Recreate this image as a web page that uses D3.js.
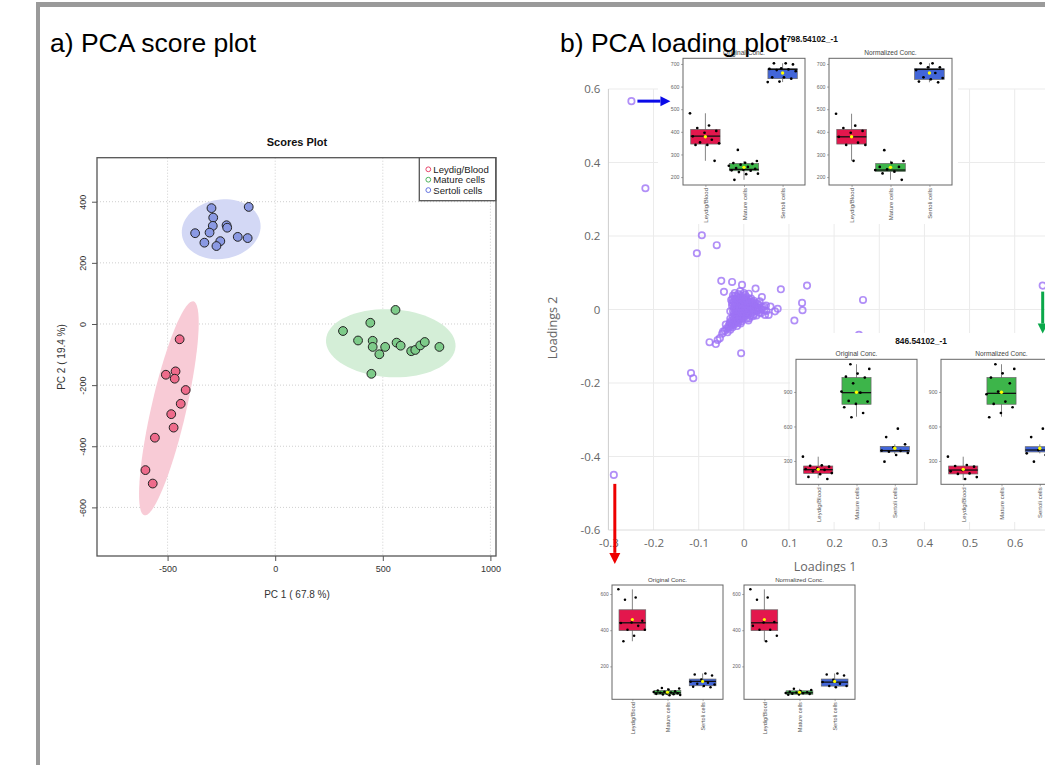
<!DOCTYPE html>
<html>
<head>
<meta charset="utf-8">
<script src="https://cdn.jsdelivr.net/npm/d3@7"></script>
<style>
body { margin: 0; background: #fff; }
svg { display: block; }
</style>
</head>
<body>
<svg id="fig" width="1045" height="765"></svg>
<script>
// ---------- data ----------
const groups = ["Leydig/Blood", "Mature cells", "Sertoli cells"];

// a) PCA scores  [PC1, PC2]
const scoreLeydig = [[-444,-50],[-508,-166],[-463,-155],[-467,-179],[-416,-216],[-439,-261],
  [-483,-295],[-472,-339],[-559,-372],[-603,-478],[-569,-522]];
const scoreMature = [[559,46],[442,4],[315,-23],[385,-54],[453,-55],[453,-75],[511,-75],[484,-99],
  [564,-61],[583,-71],[632,-89],[651,-85],[674,-70],[695,-59],[763,-75],[447,-163]];
const scoreSertoli = [[-296,379],[-123,383],[-288,348],[-290,321],[-226,323],[-223,315],[-372,297],
  [-305,299],[-174,285],[-128,281],[-329,266],[-255,271],[-273,255]];
// confidence ellipses: centre, half major axis, half minor axis (data units)
const ellLeydig = [-494, -276, 114, 350, 79, -13];
const ellMature = [537, -63, 301, -11, -8, -111];
const ellSertoli = [-251, 310, 182, 20, 20, -96];
const scoreXTicks = [-500, 0, 500, 1000];
const scoreYTicks = [-600, -400, -200, 0, 200, 400];

// b) PCA loadings [loading 1, loading 2]
const loadings = [
  [-0.249,0.567],[-0.218,0.330],[-0.288,-0.450],
  [-0.093,0.202],[-0.060,0.175],[-0.104,0.153],
  [-0.050,0.078],[-0.026,0.075],[-0.004,0.067],[-0.044,0.048],[0.026,0.057],[0.082,0.055],
  [0.140,0.065],[0.264,0.026],[0.129,0.018],[0.130,-0.002],[0.112,-0.030],[0.662,0.065],
  [0.255,-0.069],[-0.076,-0.089],[-0.062,-0.094],[-0.058,-0.083],[-0.053,-0.078],[-0.006,-0.119],
  [-0.117,-0.173],[-0.112,-0.187],
  [0.075,0.002],[0.069,-0.005],[0.055,-0.015],[0.047,-0.015],[0.059,0.008],[0.049,0.011],
  [0.035,0.022],[0.040,0.034],[0.003,0.040],[0.011,0.043],[0.032,0.000],[0.021,-0.018],
  [-0.046,-0.060],[-0.040,-0.041],[-0.031,-0.036],
  [-0.02,0.03],[-0.015,0.035],[-0.01,0.03],[-0.005,0.032],[0,0.028],[0.005,0.025],[0.01,0.022],
  [0.015,0.02],[0.02,0.015],[0.025,0.01],[0.03,0.006],[0.035,0.003],[0.04,0.0],[0.028,-0.004],
  [0.018,-0.008],[0.01,-0.012],[-0.022,0.02],[-0.018,0.015],[-0.012,0.018],[-0.006,0.02],
  [0.002,0.016],[0.008,0.012],[0.014,0.008],[0.02,0.004],[0.012,0.0],[0.004,0.004],[-0.004,0.008],
  [-0.01,0.006],[-0.016,0.004],[-0.022,0.006],[-0.024,-0.005],[-0.018,-0.006],[-0.012,-0.004],
  [-0.006,-0.002],[0,-0.004],[0.006,-0.006],[-0.002,-0.012],[-0.008,-0.014],[-0.014,-0.012],
  [-0.02,-0.015],[-0.024,-0.02],[-0.018,-0.022],[-0.012,-0.02],[-0.006,-0.018],[0.002,-0.02],
  [-0.004,-0.026],[-0.01,-0.028],[-0.016,-0.03],[-0.022,-0.032],[-0.026,-0.036],[-0.02,-0.04],
  [-0.012,-0.036],[-0.005,-0.032],[-0.028,-0.044],[-0.033,-0.05],[-0.038,-0.052],[-0.03,-0.055],
  [-0.042,-0.058],[-0.036,-0.062],[-0.048,-0.066],[-0.025,-0.048],[-0.015,-0.045],
  [-0.026,0.01],[-0.028,0.026],[-0.024,0.038],[-0.02,0.045],[-0.012,0.042],[0.006,0.034],
  [0.016,0.03],[0.022,0.024],[0.03,0.016],[0.045,0.008],[0.05,-0.004],[0.038,-0.01],
  [0.028,-0.016],[0.012,-0.024],[-0.03,-0.005],[-0.03,-0.025],[0.0,0.045],[-0.008,0.05],[0.01,-0.03],
  [-0.018,0.025],[-0.013,0.024],[-0.008,0.025],[-0.002,0.024],[0.004,0.02],[0.01,0.016],
  [0.016,0.013],[0.022,0.009],[0.027,0.004],[0.033,-0.002],[0.022,-0.006],[0.015,-0.003],
  [0.008,0.006],[0.002,0.01],[-0.004,0.014],[-0.01,0.012],[-0.016,0.01],[-0.021,0.013],
  [-0.021,0.0],[-0.015,-0.001],[-0.009,0.001],[-0.003,0.002],[0.003,-0.001],[0.008,-0.002],
  [0.004,-0.01],[-0.001,-0.007],[-0.006,-0.008],[-0.011,-0.009],[-0.017,-0.01],[-0.022,-0.011],
  [-0.022,-0.026],[-0.016,-0.025],[-0.009,-0.023],[-0.002,-0.016],[0.006,-0.014],[-0.019,-0.035],
  [-0.013,-0.031],[-0.007,-0.038],[-0.024,-0.041],[-0.028,-0.031],[-0.031,-0.04],[-0.034,-0.045],
  [-0.026,0.018],[-0.025,0.029],[-0.019,0.037],[-0.014,0.029],[-0.006,0.038],[0.004,0.03],
  [0.012,0.028],[0.019,0.021],[0.026,0.017],[0.034,0.012],[0.041,0.006],[0.045,-0.002],
  [0.034,-0.008],[0.022,-0.013],[0.015,-0.018],[0.006,-0.025]
];
const loadXTicks = [-0.3, -0.2, -0.1, 0, 0.1, 0.2, 0.3, 0.4, 0.5, 0.6];
const loadGridX = [-0.2, -0.1, 0, 0.1, 0.2, 0.3, 0.4, 0.5, 0.6, 0.7];
const loadYTicks = [-0.6, -0.4, -0.2, 0, 0.2, 0.4, 0.6];
// highlighted features (index into loadings)
const hiTop = 0, hiLow = 2, hiRight = 17;

// boxplot stats per group: [lowWhisker, q1, median, q3, highWhisker, mean]
const f798OrigStats = [[272,346,381,411,482,378],[188,228,234,260,271,243],[620,635,676,679,703,660]];
const f798OrigPts = [[482,428,417,404,396,380,365,353,349,342,342,272],
  [320,271,263,262,258,255,250,245,240,236,232,230,228,222,215,213,188],
  [703,703,698,681,678,676,673,668,641,641,635,622,620]];
const f798NormStats = [[272,346,378,411,480,378],[188,225,231,260,272,243],[619,632,676,679,703,660]];
const f798NormPts = [[480,427,417,404,396,378,352,342,342,272],
  [319,271,263,245,245,234,231,224,216,188],
  [703,703,685,685,673,660,641,638,632,622,619]];
const f798Ticks = [200, 300, 400, 500, 600, 700];

const f846OrigStats = [[150,192,224,256,337,227],[685,793,894,1025,1141,897],[361,378,390,427,445,410]];
const f846OrigPts = [[337,262,258,250,236,230,222,210,195,185,161,143],
  [1141,1100,1060,1033,1025,975,903,894,822,816,796,767,717,680],
  [581,508,445,419,390,388,380,370,352,294]];
const f846NormStats = [[134,187,221,256,337,227],[685,793,888,1025,1141,897],[366,378,395,424,445,410]];
const f846NormPts = [[337,265,256,250,221,210,192,187,160,143],
  [1141,1100,1062,1025,975,903,880,816,796,767,717,680],
  [581,508,410,395,366,352,294]];
const f846Ticks = [300, 600, 900];

const fLowOrigStats = [[339,398,441,513,626,459],[39,46,54,67,80,57],[83,93,117,130,161,117]];
const fLowOrigPts = [[626,581,569,452,443,440,424,402,402,370,339],
  [80,78,72,66,62,60,58,56,54,52,50,48,46,44,42,40],
  [161,155,150,128,115,109,104,100,92,88,85]];
const fLowNormStats = [[339,398,441,513,626,459],[40,46,54,65,76,57],[83,91,113,130,161,117]];
const fLowNormPts = [[626,581,569,446,443,424,402,402,370,339],
  [76,70,64,60,57,55,53,51,49,47,45,43],
  [161,155,150,126,113,104,91,91,85]];
const fLowTicks = [200, 400, 600];

const boxColors = ["#e3174d", "#3db54a", "#4266d9"];

// ---------- drawing ----------
const svg = d3.select("#fig");
const sans = "Liberation Sans, Arial, sans-serif";

// frame
svg.append("rect").attr("x", 36).attr("y", 2).attr("width", 1009).attr("height", 5).attr("fill", "#9a9a9a");
svg.append("rect").attr("x", 36).attr("y", 2).attr("width", 4).attr("height", 763).attr("fill", "#9a9a9a");

// ===== a) scores plot =====
const sx = d3.scaleLinear().domain([-828, 1026]).range([97, 496]);
const sy = d3.scaleLinear().domain([-759, 544]).range([556, 157.7]);
const ga = svg.append("g").attr("font-family", sans);

ga.selectAll(".gx").data(scoreXTicks).enter().append("line")
  .attr("x1", d => sx(d)).attr("x2", d => sx(d)).attr("y1", 157.7).attr("y2", 556)
  .attr("stroke", "#cfcfcf").attr("stroke-dasharray", "1,2");
ga.selectAll(".gy").data(scoreYTicks).enter().append("line")
  .attr("x1", 97).attr("x2", 496).attr("y1", d => sy(d)).attr("y2", d => sy(d))
  .attr("stroke", "#cfcfcf").attr("stroke-dasharray", "1,2");

function ellipsePath(e) {
  const pts = d3.range(0, 361, 5).map(a => {
    const t = a * Math.PI / 180;
    return [sx(e[0] + e[2] * Math.cos(t) + e[4] * Math.sin(t)),
            sy(e[1] + e[3] * Math.cos(t) + e[5] * Math.sin(t))];
  });
  return d3.line()(pts);
}
const scoreSets = [
  {pts: scoreLeydig, ell: ellLeydig, fill: "#ee6b8b", ellFill: "#f8cbd6", leg: "#e8456b"},
  {pts: scoreMature, ell: ellMature, fill: "#7dcb89", ellFill: "#d4eed7", leg: "#4fb35f"},
  {pts: scoreSertoli, ell: ellSertoli, fill: "#8a99e3", ellFill: "#d3d8f5", leg: "#6272e0"}
];
scoreSets.forEach(s => {
  ga.append("path").attr("d", ellipsePath(s.ell)).attr("fill", s.ellFill);
});
scoreSets.forEach(s => {
  ga.selectAll(null).data(s.pts).enter().append("circle")
    .attr("cx", d => sx(d[0])).attr("cy", d => sy(d[1])).attr("r", 4.4)
    .attr("fill", s.fill).attr("stroke", "#222").attr("stroke-width", 1);
});
ga.append("rect").attr("x", 97).attr("y", 157.7).attr("width", 399).attr("height", 398.3)
  .attr("fill", "none").attr("stroke", "#555").attr("stroke-width", 1.3);

const axA = ga.append("g").attr("transform", "translate(0,556)")
  .call(d3.axisBottom(sx).tickValues(scoreXTicks).tickSize(5).tickPadding(5).tickFormat(d => String(d)));
axA.select(".domain").remove();
axA.selectAll("text").attr("font-size", 9).attr("fill", "#333").attr("font-family", sans);
axA.selectAll("line").attr("stroke", "#555");
const ayA = ga.append("g").attr("transform", "translate(97,0)")
  .call(d3.axisLeft(sy).tickValues(scoreYTicks).tickSize(5).tickFormat(d => String(d)));
ayA.select(".domain").remove();
ayA.selectAll("line").attr("stroke", "#555");
ayA.selectAll("text").attr("font-size", 9).attr("fill", "#333").attr("font-family", sans)
  .attr("text-anchor", "middle").attr("x", null).attr("dy", null)
  .attr("transform", "translate(-14,0) rotate(-90)").attr("dominant-baseline", "central");

ga.append("text").attr("x", 297).attr("y", 146).attr("text-anchor", "middle")
  .attr("font-size", 11).attr("font-weight", "bold").attr("fill", "#111").text("Scores Plot");
ga.append("text").attr("x", 297).attr("y", 598).attr("text-anchor", "middle")
  .attr("font-size", 10).attr("fill", "#333").text("PC 1 ( 67.8 %)");
ga.append("text").attr("transform", "translate(61,357) rotate(-90)").attr("text-anchor", "middle")
  .attr("dominant-baseline", "central").attr("font-size", 10).attr("fill", "#333").text("PC 2 ( 19.4 %)");

// legend
ga.append("rect").attr("x", 419.3).attr("y", 157.7).attr("width", 76.4).attr("height", 43)
  .attr("fill", "#fff").attr("stroke", "#555").attr("stroke-width", 1.3);
groups.forEach((g, i) => {
  ga.append("circle").attr("cx", 428.3).attr("cy", 169.3 + i * 10.4).attr("r", 2.4)
    .attr("fill", "none").attr("stroke", scoreSets[i].leg).attr("stroke-width", 1);
  ga.append("text").attr("x", 433.3).attr("y", 169.3 + i * 10.4).attr("dominant-baseline", "central")
    .attr("font-size", 9.6).attr("fill", "#222").text(g);
});

// ===== b) loading plot =====
const lx = d3.scaleLinear().domain([-0.3, 0.6]).range([608.4, 1014.7]);
const ly = d3.scaleLinear().domain([-0.6, 0.6]).range([530, 89]);
const gb = svg.append("g").attr("font-family", "Open Sans, sans-serif");

gb.selectAll(".lgx").data(loadGridX).enter().append("line")
  .attr("x1", d => lx(d)).attr("x2", d => lx(d)).attr("y1", ly(0.6)).attr("y2", ly(-0.6))
  .attr("stroke", "#ebebeb");
gb.selectAll(".lgy").data(loadYTicks.slice(1)).enter().append("line")
  .attr("x1", lx(-0.3)).attr("x2", 1060).attr("y1", d => ly(d)).attr("y2", d => ly(d))
  .attr("stroke", "#ebebeb");
gb.append("line").attr("x1", lx(-0.3)).attr("x2", lx(-0.3)).attr("y1", ly(0.6)).attr("y2", ly(-0.6))
  .attr("stroke", "#cdcdcd");
gb.append("line").attr("x1", lx(-0.3)).attr("x2", 1060).attr("y1", ly(-0.6)).attr("y2", ly(-0.6))
  .attr("stroke", "#dcdcdc");

const axB = gb.append("g").attr("transform", `translate(0,${ly(-0.6)})`)
  .call(d3.axisBottom(lx).tickValues(loadXTicks).tickSize(0).tickPadding(9).tickFormat(d => String(d)));
axB.select(".domain").remove();
axB.selectAll("text").attr("font-size", 11.5).attr("fill", "#666").attr("font-family", "Open Sans, sans-serif");
const ayB = gb.append("g").attr("transform", `translate(${lx(-0.3)},0)`)
  .call(d3.axisLeft(ly).tickValues(loadYTicks).tickSize(0).tickPadding(8).tickFormat(d => String(d)));
ayB.select(".domain").remove();
ayB.selectAll("text").attr("font-size", 11.5).attr("fill", "#666").attr("font-family", "Open Sans, sans-serif");

gb.append("text").attr("x", 825).attr("y", 571).attr("text-anchor", "middle")
  .attr("font-size", 12.5).attr("fill", "#666").text("Loadings 1");
gb.append("text").attr("transform", "translate(552,328) rotate(-90)").attr("text-anchor", "middle")
  .attr("dominant-baseline", "central").attr("font-size", 12.5).attr("fill", "#666").text("Loadings 2");

gb.selectAll(".lp").data(loadings).enter().append("circle")
  .attr("cx", d => lx(d[0])).attr("cy", d => ly(d[1])).attr("r", 3.2)
  .attr("fill", "none").attr("stroke", "#9d73f5").attr("stroke-opacity", 0.8).attr("stroke-width", 1.7);

// ===== boxplot insets =====
function boxPanel(g, x0, x1, y0, y1, domain, ticks, stats, pts, subtitle, fs) {
  const x = d3.scalePoint().domain(groups).range([x0, x1]).padding(0.58);
  const y = d3.scaleLinear().domain(domain).range([y1, y0]);
  const bw = x.step() * 0.76;
  g.append("text").attr("x", (x0 + x1) / 2).attr("y", y0 - 3).attr("text-anchor", "middle")
    .attr("font-size", 6.6 * fs).attr("fill", "#444").text(subtitle);
  const ay = g.append("g").attr("transform", `translate(${x0},0)`)
    .call(d3.axisLeft(y).tickValues(ticks).tickSize(2 * fs).tickPadding(1.5));
  ay.select(".domain").remove();
  ay.selectAll("line").attr("stroke", "#777").attr("stroke-width", 0.6);
  ay.selectAll("text").attr("font-size", 5.2 * fs).attr("fill", "#666").attr("font-family", sans);
  const ax = g.append("g").attr("transform", `translate(0,${y1})`)
    .call(d3.axisBottom(x).tickSize(2 * fs).tickPadding(2));
  ax.select(".domain").remove();
  ax.selectAll("line").attr("stroke", "#777").attr("stroke-width", 0.6);
  ax.selectAll("text").attr("font-size", 6 * fs).attr("fill", "#555").attr("font-family", sans)
    .attr("text-anchor", "end").attr("y", null).attr("dy", null)
    .attr("transform", `translate(0,${3 * fs}) rotate(-90)`).attr("dominant-baseline", "central");

  stats.forEach((s, i) => {
    const cx = x(groups[i]);
    g.append("line").attr("x1", cx).attr("x2", cx).attr("y1", y(s[0])).attr("y2", y(s[4]))
      .attr("stroke", "#777").attr("stroke-width", 0.9);
    g.append("rect").attr("x", cx - bw / 2).attr("width", bw).attr("y", y(s[3]))
      .attr("height", y(s[1]) - y(s[3])).attr("fill", boxColors[i]).attr("stroke", "#666").attr("stroke-width", 0.7);
    g.append("line").attr("x1", cx - bw / 2).attr("x2", cx + bw / 2).attr("y1", y(s[2])).attr("y2", y(s[2]))
      .attr("stroke", "#111").attr("stroke-width", 1.3);
    g.selectAll(null).data(pts[i]).enter().append("circle")
      .attr("cx", (d, j) => cx + (((j * 0.618034 + i * 0.3) % 1) - 0.5) * bw * 1.05)
      .attr("cy", d => y(d)).attr("r", 1.35 * fs).attr("fill", "#000");
    g.append("circle").attr("cx", cx).attr("cy", y(s[5])).attr("r", 1.7 * fs).attr("fill", "#ffff00");
  });
  g.append("rect").attr("x", x0).attr("y", y0).attr("width", x1 - x0).attr("height", y1 - y0)
    .attr("fill", "none").attr("stroke", "#666").attr("stroke-width", 1);
}

const insets = [
  {bg: [658, 28, 300, 196], title: "798.54102_-1", tx: 812, ty: 42, y0: 58.3, y1: 185, fs: 1,
   domain: [165, 725], ticks: f798Ticks,
   panels: [[683, 805, f798OrigStats, f798OrigPts, "Original Conc."],
            [829, 952, f798NormStats, f798NormPts, "Normalized Conc."]]},
  {bg: [790, 333, 270, 189], title: "846.54102_-1", tx: 921, ty: 344, y0: 359.3, y1: 484.3, fs: 1,
   domain: [97, 1184], ticks: f846Ticks,
   panels: [[796, 917, f846OrigStats, f846OrigPts, "Original Conc."],
            [941, 1062, f846NormStats, f846NormPts, "Normalized Conc."]]},
  {bg: [595, 572, 266, 165], title: "", tx: 0, ty: 0, y0: 585, y1: 699.3, fs: 0.93,
   domain: [18, 650], ticks: fLowTicks,
   panels: [[612, 723, fLowOrigStats, fLowOrigPts, "Original Conc."],
            [744, 855, fLowNormStats, fLowNormPts, "Normalized Conc."]]}
];
insets.forEach(ins => {
  const g = svg.append("g").attr("font-family", sans);
  g.append("rect").attr("x", ins.bg[0]).attr("y", ins.bg[1]).attr("width", ins.bg[2]).attr("height", ins.bg[3])
    .attr("fill", "#fff");
  if (ins.title) {
    g.append("text").attr("x", ins.tx).attr("y", ins.ty).attr("text-anchor", "middle")
      .attr("font-size", 8.4).attr("font-weight", "bold").attr("fill", "#111").text(ins.title);
  }
  ins.panels.forEach(p => boxPanel(g, p[0], p[1], ins.y0, ins.y1, ins.domain, ins.ticks, p[2], p[3], p[4], ins.fs));
});

// ===== arrows pointing from highlighted loadings to their boxplots =====
function arrow(x1, y1, x2, y2, color, w, head) {
  const ang = Math.atan2(y2 - y1, x2 - x1);
  const bx = x2 - head * Math.cos(ang), by = y2 - head * Math.sin(ang);
  svg.append("line").attr("x1", x1).attr("y1", y1).attr("x2", bx).attr("y2", by)
    .attr("stroke", color).attr("stroke-width", w);
  const px = Math.sin(ang) * head * 0.5, py = -Math.cos(ang) * head * 0.5;
  svg.append("path").attr("d", `M${x2},${y2}L${bx + px},${by + py}L${bx - px},${by - py}Z`).attr("fill", color);
}
const pTop = loadings[hiTop], pLow = loadings[hiLow], pRight = loadings[hiRight];
arrow(lx(pTop[0]) + 6, ly(pTop[1]), lx(pTop[0]) + 39, ly(pTop[1]), "#0a0ae8", 3, 10);
arrow(lx(pRight[0]), ly(pRight[1]) + 6, lx(pRight[0]), ly(pRight[1]) + 48, "#0aa84a", 3, 10);
arrow(lx(pLow[0]) + 1, ly(pLow[1]) + 9, lx(pLow[0]) + 1, ly(pLow[1]) + 89, "#ee0000", 3, 11);

// ===== panel labels =====
svg.append("text").attr("x", 50).attr("y", 52).attr("font-family", sans).attr("font-size", 26.5)
  .attr("fill", "#000").text("a) PCA score plot");
svg.append("text").attr("x", 560).attr("y", 52).attr("font-family", sans).attr("font-size", 26.5)
  .attr("fill", "#000").text("b) PCA loading plot");
</script>
</body>
</html>
